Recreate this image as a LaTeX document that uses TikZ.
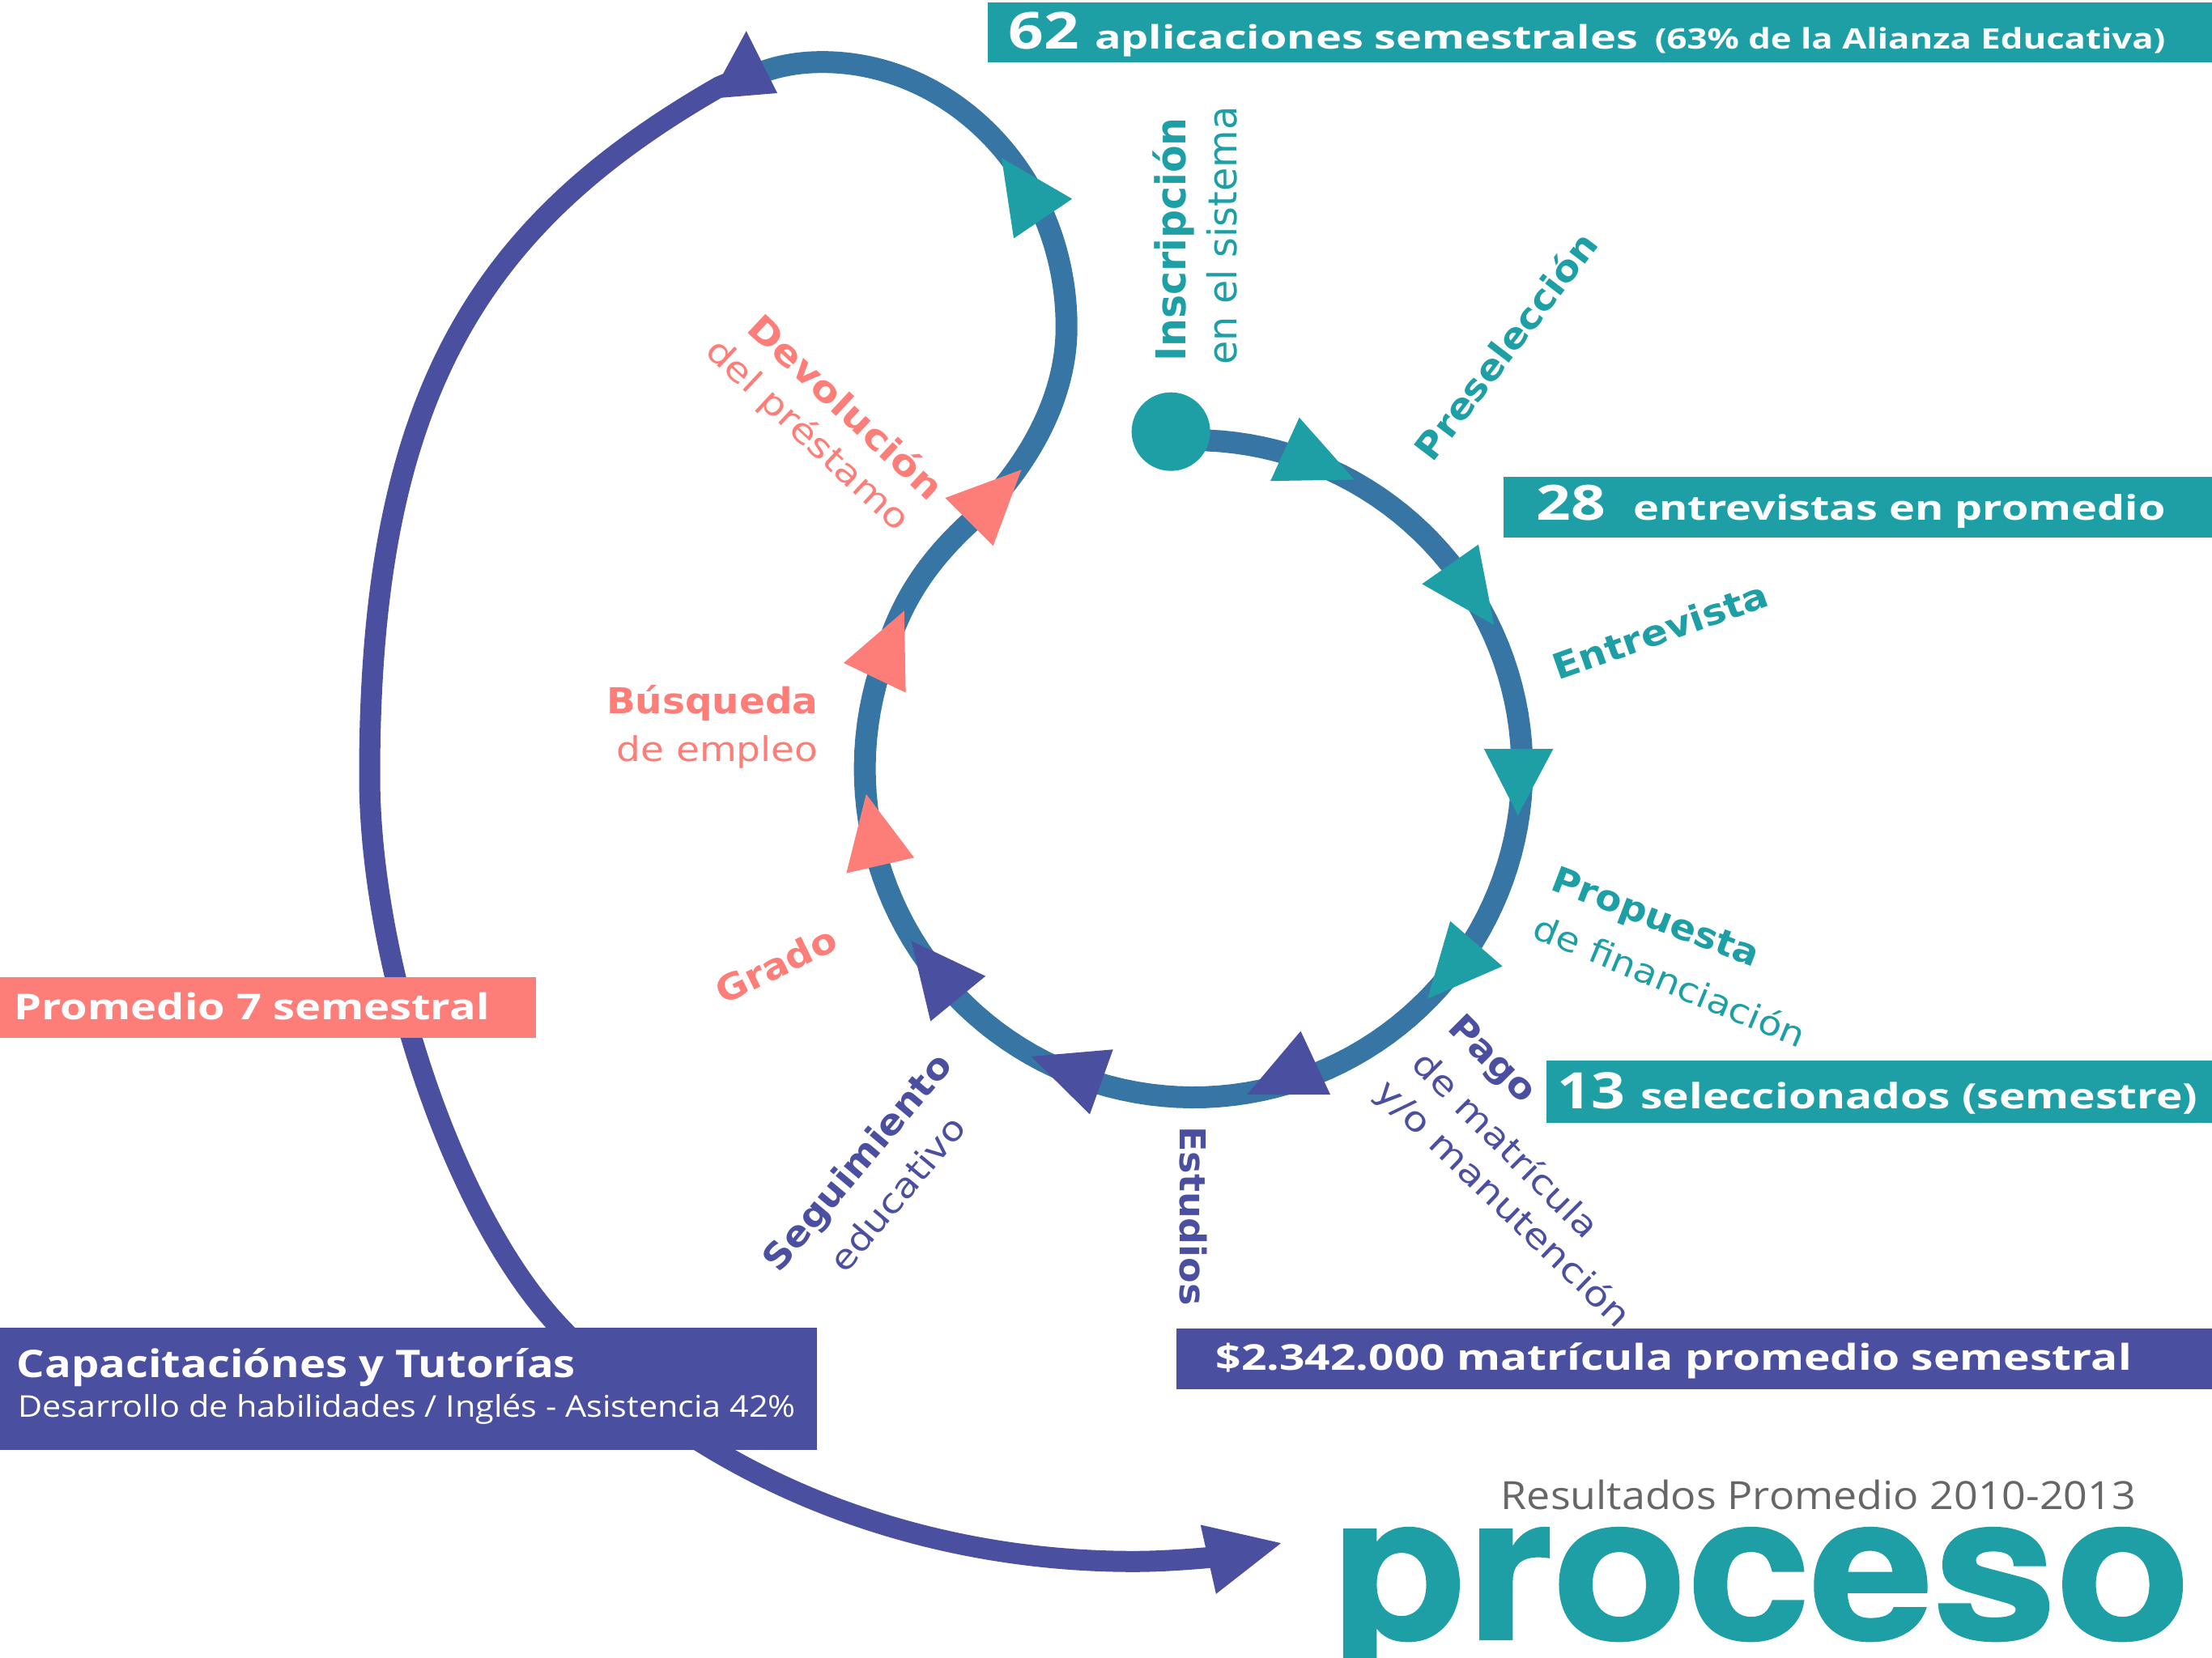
\documentclass[tikz,border=0pt]{standalone}
\usepackage{graphicx}
\usepackage{fontspec}
\setmainfont{DejaVu Sans}
\newfontfamily\labfont{DejaVu Sans}
\newfontfamily\boxfont{Open Sans}
\newfontfamily\logofont[BoldFeatures={FakeBold=1.2}]{TeX Gyre Heros}
\definecolor{tealc}{HTML}{1D9FA5}
\definecolor{bluec}{HTML}{3776A4}
\definecolor{purplec}{HTML}{4B4FA0}
\definecolor{pinkc}{HTML}{FD7E78}
\definecolor{grayc}{HTML}{666666}
\newlength{\fitlen}
\newcommand{\fitw}[2]{\setlength{\fitlen}{#1pt}\setlength{\fitlen}{1.74235\fitlen}\resizebox{\fitlen}{\height}{#2}}
\newcommand{\lbb}[1]{{\labfont\bfseries\fontsize{44}{50}\selectfont #1}}
\newcommand{\lbr}[1]{{\labfont\fontsize{42}{50}\selectfont #1}}
\newcommand{\lbB}[1]{{\labfont\bfseries\fontsize{51}{50}\selectfont #1}}
\newcommand{\lbR}[1]{{\labfont\fontsize{49}{50}\selectfont #1}}
\newcommand{\bx}[2]{{\boxfont\bfseries\fontsize{#1}{#1}\selectfont #2}}
\newcommand{\bxr}[2]{{\boxfont\fontsize{#1}{#1}\selectfont #2}}
\tikzset{
  flow/.style={line width=27pt,line cap=butt,line join=round},
  tri/.style={fill=#1,draw=none},
  bar/.style={fill=#1,draw=none},
  t/.style={inner sep=0pt,outer sep=0pt,anchor=base west,text=white},
  l/.style={inner sep=0pt,outer sep=0pt,anchor=center,text=#1}
}
\begin{document}
\begin{tikzpicture}[x=1.74235pt,y=-1.74235pt]
\clip (0,0) rectangle (1568,1175.4);
\fill[white] (0,0) rectangle (1568,1175.4);
% main curve
\draw[flow,bluec] (830,306) .. controls (836,310) and (842,312) .. (846,312)
  -- plot[domain=90:-200,samples=120] ({846+233*cos(\x)},{545-233*sin(\x)})
  .. controls (638,428) and (656,399) .. (689,369)
  .. controls (720,340) and (756,290) .. (756,232)
  .. controls (756,125) and (675,44) .. (583,44)
  .. controls (565,44) and (550,47) .. (535,53);
\draw[flow,purplec,line width=26pt] (535,51) -- (510,61.5)
  .. controls (340,159) and (262,280) .. (262,550)
  .. controls (262,680) and (320,860) .. (397,941)
  .. controls (500,1050) and (650,1107) .. (803.6,1107)
  .. controls (825,1107) and (850,1105) .. (870,1103);
% arrowheads
\fill[tri=tealc] (921,296)--(960,340)--(900.6,341)--cycle;
\fill[tri=tealc] (1048,386)--(1059,443)--(1008,414)--cycle;
\fill[tri=tealc] (1052,531)--(1101,531)--(1076,578)--cycle;
\fill[tri=tealc] (1028,653)--(1065,685)--(1012,708)--cycle;
\fill[tri=purplec] (922,731)--(943,776)--(884,776)--cycle;
\fill[tri=purplec] (789,744)--(772.5,790)--(731,749)--cycle;
\fill[tri=purplec] (646,667)--(698.6,692)--(659.6,724)--cycle;
\fill[tri=pinkc] (614,563)--(648,608)--(600,619)--cycle;
\fill[tri=pinkc] (641,433)--(642,491)--(598,470)--cycle;
\fill[tri=pinkc] (724,333)--(704,387)--(670,353)--cycle;
\fill[tri=tealc] (710,112)--(760,141)--(718.6,169)--cycle;
\fill[tri=purplec] (529,22)--(551,66)--(503,70)--cycle;
\fill[tri=purplec] (851,1081)--(908,1094)--(862,1130)--cycle;
\fill[tealc] (830,306) circle[radius=48.5pt];
% bars
\fill[bar=tealc] (700,1.5) rectangle (1568,44);
\fill[bar=tealc] (1066,338) rectangle (1568,381);
\fill[bar=tealc] (1096,752) rectangle (1568,796);
\fill[bar=purplec] (834,942) rectangle (1568,985);
\fill[bar=pinkc] (0,693) rectangle (380,736);
\fill[bar=purplec] (0,941) rectangle (579,1028);
% bar texts
\node[t] (n62) at (715,34.5) {\fitw{50}{\bx{63}{62}}};
\node[t] (apl) at (776,34.5) {\fitw{385}{\bx{40}{aplicaciones semestrales}}};
\node[t] (ali) at (1173,34.5) {\fitw{362}{\bx{35}{(63\% de la Alianza Educativa)}}};
\node[t] (n28) at (1089,369) {\fitw{49}{\bx{60}{28}}};
\node[t] (ent) at (1158,369) {\fitw{377}{\bx{42}{entrevistas en promedio}}};
\node[t] (n13) at (1104,786) {\fitw{48}{\bx{62}{13}}};
\node[t] (sel) at (1163,786) {\fitw{395}{\bx{43}{seleccionados (semestre)}}};
\node[t] (mat) at (862,971.5) {\fitw{649}{\bx{44}{\$2.342.000 matrícula promedio semestral}}};
\node[t] (pro7) at (10,722.6) {\fitw{337}{\bx{44}{Promedio 7 semestral}}};
\node[t] (cap) at (12,976.5) {\fitw{396}{\bx{47}{Capacitaciónes y Tutorías}}};
\node[t] (des) at (13,1004.5) {\fitw{551}{\bxr{37}{Desarrollo de habilidades / Inglés - Asistencia 42\%}}};
\node[t,text=grayc] (res) at (1064,1070) {\fitw{450}{\bxr{48}{Resultados Promedio 2010-2013}}};
\node[t,text=tealc] (logo) at (944,1162) {\fitw{609}{\logofont\bfseries\fontsize{250}{250}\selectfont proceso}};
% step labels
\node[l=tealc,rotate=90] (ins) at (832,170) {\fitw{173}{\lbB{Inscripción}}};
\node[l=tealc,rotate=90] (ins2) at (866,167) {\fitw{183}{\lbR{en el sistema}}};
\node[l=tealc,rotate=52.7] (pre) at (1067,245) {\fitw{195}{\lbb{Preselección}}};
\node[l=tealc,rotate=19.5] (etr) at (1177,447) {\fitw{160}{\lbb{Entrevista}}};
\node[l=tealc,rotate=-21] (pro) at (1173,652) {\fitw{155}{\lbb{Propuesta}}};
\node[l=tealc,rotate=-22.5] (fin) at (1184,695) {\fitw{206}{\lbr{de financiación}}};
\node[l=purplec,rotate=-45] (pag) at (1057,752) {\fitw{76}{\lbb{Pago}}};
\node[l=purplec,rotate=-45] (dem) at (1068,811) {\fitw{175}{\lbr{de matrícula}}};
\node[l=purplec,rotate=-44] (man) at (1065,854) {\fitw{240}{\lbr{y/o manutención}}};
\node[l=purplec,rotate=-90] (est) at (846,862) {\fitw{127}{\lbb{Estudios}}};
\node[l=purplec,rotate=50] (seg) at (609,825) {\fitw{192}{\lbb{Seguimiento}}};
\node[l=purplec,rotate=50] (edu) at (636,846) {\fitw{135}{\lbr{educativo}}};
\node[l=pinkc,rotate=26] (gra) at (550,684) {\fitw{92}{\lbb{Grado}}};
\node[l=pinkc,anchor=base east] (bus) at (580,506) {\fitw{150}{\lbb{Búsqueda}}};
\node[l=pinkc,anchor=base east] (emp) at (580,540) {\fitw{143}{\lbr{de empleo}}};
\node[l=pinkc,rotate=-43] (dev) at (600,288) {\fitw{178}{\lbb{Devolución}}};
\node[l=pinkc,rotate=-43] (del) at (572,309) {\fitw{187}{\lbr{del préstamo}}};
\end{tikzpicture}
\end{document}
